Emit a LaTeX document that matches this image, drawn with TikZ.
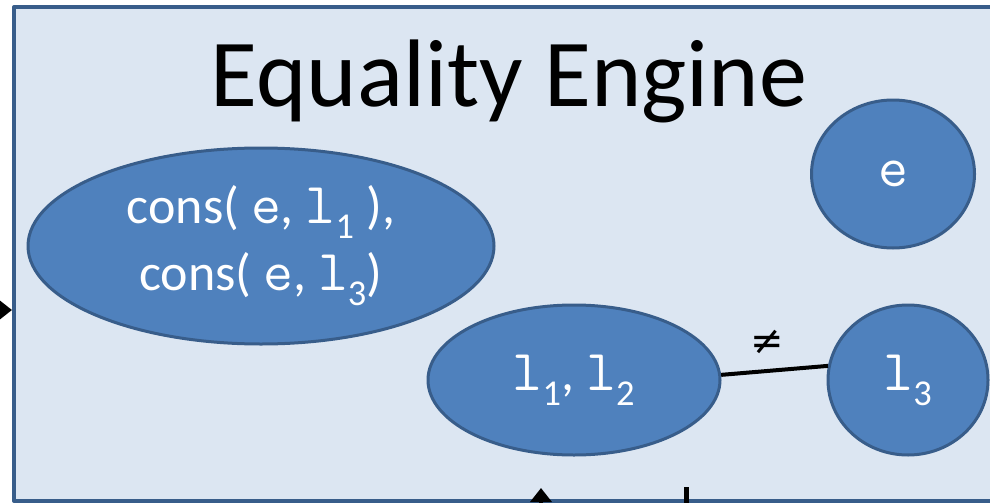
\documentclass[tikz,border=0pt]{standalone}
\usepackage{fontspec}
\setmainfont{Carlito}
\newfontfamily\symf{DejaVu Sans}
\usetikzlibrary{shapes.geometric,arrows.meta}
\definecolor{engfill}{HTML}{DCE6F2}
\definecolor{engline}{HTML}{385D8A}
\definecolor{classfill}{HTML}{4F81BD}
\newcommand\tm[1]{{\ttfamily\fontsize{58}{62}\selectfont #1}}
\newcommand\sub[1]{\textsubscript{#1}}
\tikzset{
  eqclass/.style={ellipse, draw=engline, fill=classfill, line width=3pt, text=white,
    inner sep=0pt, align=center, font=\fontsize{52}{62}\selectfont},
  link/.style={line width=4pt},
}
\begin{document}
\begin{tikzpicture}[x=1pt, y=-1pt, line join=round, >={Triangle[length=14pt,width=21pt]}]
\useasboundingbox (0,0) rectangle (990,503);
\node[draw=engline, fill=engfill, line width=4pt, minimum width=996, minimum height=494] (engine) at (512,254) {};
\node[anchor=base, font=\fontsize{96}{100}\selectfont] (title) at (509,106) {Equality Engine};
% equivalence classes
\node[eqclass, minimum width=466, minimum height=196] (cons) at (261,246)
  {\raisebox{5pt}{cons( \tm{e}, \tm{l}\sub{1} ),}\\ cons( \tm{e}, \tm{l}\sub{3})};
\node[eqclass, minimum width=292, minimum height=150] (l12) at (574,380) {\tm{l}\sub{1}, \tm{l}\sub{2}};
\node[eqclass, minimum width=163, minimum height=148] (e) at (893,174) {\tm{e}};
\node[eqclass, minimum width=160, minimum height=150] (l3) at (908,380) {\raisebox{6pt}{\tm{l}\sub{3}}};
\draw[link] (l12.2) -- node[above=11pt, xshift=-7pt, font={\symf\fontsize{40}{44}\selectfont}] (neq) {≠} (l3.170);
% in and out of the engine
\coordinate (in) at (-30,310);
\coordinate (bin) at (541,540);
\coordinate (bout) at (686,540);
\draw[link, ->] (in) -- (in -| engine.west);
\draw[link, ->] (bin) -- ([yshift=15pt]bin |- engine.south);
\draw[line width=5pt] (bout) -- ([yshift=16pt]bout |- engine.south);
\end{tikzpicture}
\end{document}
